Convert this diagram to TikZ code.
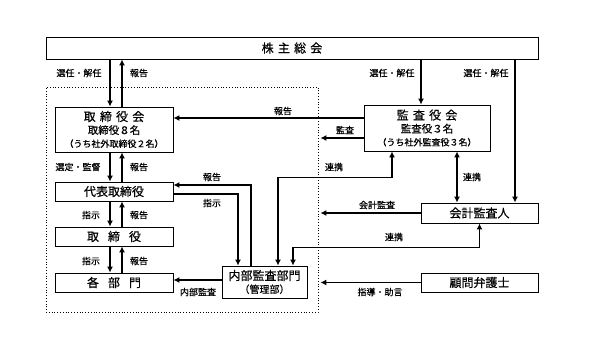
\documentclass[tikz,border=0pt]{standalone}
\usepackage{fontspec}
\setmainfont{Noto Sans CJK JP}[FakeBold=0.5]
\usetikzlibrary{arrows.meta,positioning,calc}
\newcommand{\gp}{\hspace{0.35em}}
\newcommand{\wgp}{\hspace{0.75em}}

\begin{document}
\begin{tikzpicture}[x=1pt, y=-1pt, >={Latex[length=6pt,width=6pt]},
    box/.style={draw, line width=0.9pt, inner sep=0pt, align=center, font=\fontsize{12}{13}\selectfont},
    lbl/.style={inner sep=1pt, font=\fontsize{9}{10}\selectfont},
    arr/.style={->, line width=1.8pt},
    darr/.style={<->, line width=1.8pt}]
  \useasboundingbox (0,0) rectangle (600,337);
  % company boundary
  \node[draw, dotted, line width=0.8pt, minimum width=272pt, minimum height=225pt] (grp) at (182,199.5) {};
  % boxes
  \node[box, minimum width=492pt, minimum height=22pt] (gm) at (292,48) {株\gp 主\gp 総\gp 会};
  \node[box, minimum width=118pt, minimum height=45pt] (board) at (114,129.5) {取\gp 締\gp 役\gp 会\\{\fontsize{10.5}{13}\selectfont 取締役８名}\\{\fontsize{9}{13}\selectfont （うち社外取締役２名）}};
  \node[box, minimum width=126pt, minimum height=46pt] (kansa) at (427,128) {監\gp 査\gp 役\gp 会\\{\fontsize{10.5}{13}\selectfont 監査役３名}\\{\fontsize{9}{13}\selectfont （うち社外監査役３名）}};
  \node[box, minimum width=118pt, minimum height=19pt] (rep) at (114,191.5) {代表取締役};
  \node[box, minimum width=118pt, minimum height=19pt] (dir) at (114,236.5) {取\wgp 締\wgp 役};
  \node[box, minimum width=118pt, minimum height=19pt] (dept) at (114,282.5) {各\wgp 部\wgp 門};
  \node[box, minimum width=85pt, minimum height=32pt] (audit) at (264.5,282) {内部監査部門\\{\fontsize{10}{13}\selectfont （管理部）}};
  \node[box, minimum width=117pt, minimum height=20pt] (acc) at (479.5,213) {会計監査人};
  \node[box, minimum width=117pt, minimum height=19pt] (law) at (479.5,282.5) {顧問弁護士};
  % shareholders
  \draw[arr] ([xshift=-4pt]board.north |- gm.south) -- ([xshift=-4pt]board.north);
  \draw[arr] ([xshift=8pt]board.north) -- ([xshift=8pt]board.north |- gm.south);
  \draw[arr] ([xshift=-6pt]kansa.north |- gm.south) -- ([xshift=-6pt]kansa.north);
  \draw[arr] ([xshift=35.5pt]acc.north |- gm.south) -- ([xshift=35.5pt]acc.north);
  % chain of command
  \draw[arr] ([xshift=-4pt]board.south) -- ([xshift=-4pt]rep.north);
  \draw[arr] ([xshift=8pt]rep.north) -- ([xshift=8pt]board.south);
  \draw[arr] ([xshift=-4pt]rep.south) -- ([xshift=-4pt]dir.north);
  \draw[arr] ([xshift=8pt]dir.north) -- ([xshift=8pt]rep.south);
  \draw[arr] ([xshift=-4pt]dir.south) -- ([xshift=-4pt]dept.north);
  \draw[arr] ([xshift=8pt]dept.north) -- ([xshift=8pt]dir.south);
  % auditors
  \draw[arr] ([yshift=10pt]kansa.west) -- ([yshift=10pt]kansa.west -| board.east);
  \draw[arr] ([yshift=-10pt]kansa.west) -- ([yshift=-10pt,xshift=2pt]kansa.west -| grp.east);
  \draw[darr] ([xshift=-35pt]kansa.south) -- ++(0,-26pt) -| ([xshift=13.5pt]audit.north);
  \draw[darr] ([xshift=30pt]kansa.south) -- ([xshift=30pt]kansa.south |- acc.north);
  \draw[arr] (acc.west) -- ([xshift=2pt]acc.west -| grp.east);
  \draw[darr] (acc.south) -- ++(0,-24pt) -| ([xshift=28.5pt]audit.north);
  \draw[arr] (law.west) -- ([xshift=2pt]law.west -| grp.east);
  % internal audit
  \draw[arr] ([yshift=2pt]audit.west) -- ([yshift=2pt]audit.west -| dept.east);
  \draw[arr] ([xshift=-13.5pt]audit.north) |- ([yshift=6.5pt]rep.east);
  \draw[arr] ([yshift=-2.5pt]rep.east) -| ([xshift=-26.5pt]audit.north);
  % labels
  \node[lbl] (l1) at (79,73) {選任・解任};
  \node[lbl] (l2) at (139,73) {報告};
  \node[lbl] (l3) at (392,73) {選任・解任};
  \node[lbl] (l4) at (486,73) {選任・解任};
  \node[lbl] (l5) at (283,111) {報告};
  \node[lbl] (l6) at (345,130) {監査};
  \node[lbl] (l7) at (334,167) {連携};
  \node[lbl] (l8) at (472,177) {連携};
  \node[lbl] (l9) at (78,167) {選定・監督};
  \node[lbl] (l10) at (139,167) {報告};
  \node[lbl] (l11) at (212,177) {報告};
  \node[lbl] (l12) at (212,203) {指示};
  \node[lbl] (l13) at (91,215) {指示};
  \node[lbl] (l14) at (139,215) {報告};
  \node[lbl] (l15) at (91,261) {指示};
  \node[lbl] (l16) at (139,261) {報告};
  \node[lbl] (l17) at (198,292) {内部監査};
  \node[lbl] (l18) at (377,205) {会計監査};
  \node[lbl] (l19) at (394,237) {連携};
  \node[lbl] (l20) at (380,292) {指導・助言};
\end{tikzpicture}
\end{document}
